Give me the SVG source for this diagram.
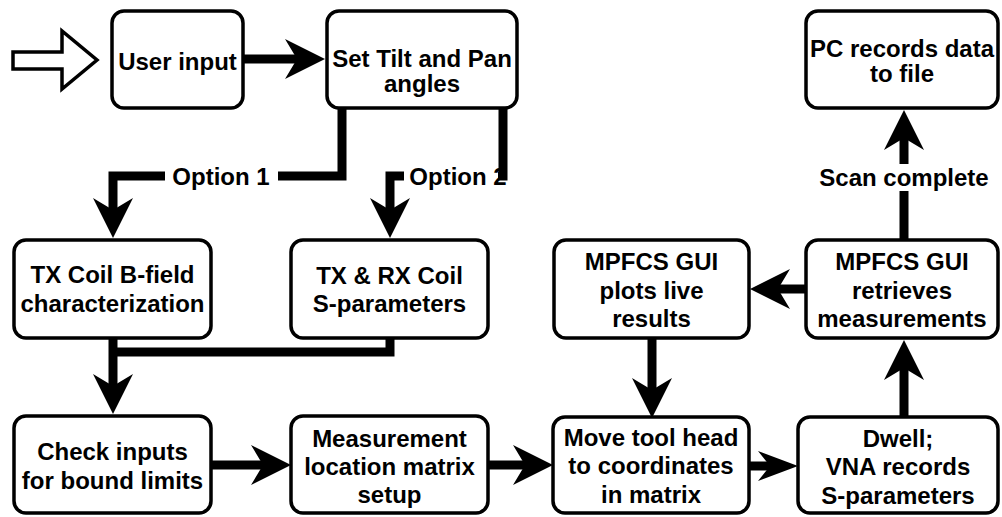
<svg xmlns="http://www.w3.org/2000/svg" width="1002" height="517" viewBox="0 0 1002 517">
  <style>
    .box { fill: #ffffff; stroke: #000000; stroke-width: 3.5; }
    .t { font-family: "Liberation Sans", Arial, sans-serif; font-weight: bold; font-size: 24px; fill: #000000; text-anchor: middle; }
    .edge { fill: none; stroke: #000000; stroke-width: 9; stroke-linejoin: miter; }
    .lbg { fill: #ffffff; stroke: none; }
  </style>
  <defs>
    <marker id="arrow" markerUnits="userSpaceOnUse" viewBox="0 0 40 40" markerWidth="40" markerHeight="40" refX="14" refY="20" orient="auto">
      <path d="M40,20 L0,0 L12,20 L0,40 Z" fill="#000000"/>
    </marker>
    <marker id="arrowS" markerUnits="userSpaceOnUse" viewBox="0 0 40 30" markerWidth="40" markerHeight="30" refX="14" refY="15" orient="auto">
      <path d="M40,15 L0,0 L12,15 L0,30 Z" fill="#000000"/>
    </marker>
  </defs>
  <rect width="1002" height="517" fill="#ffffff"/>

  <g id="connectors">
    <polygon id="start-arrow" points="13,52 62,52 62,31 97,60 62,89 62,69 13,69" fill="#ffffff" stroke="#000000" stroke-width="3.5" stroke-linejoin="miter"/>
    <path class="edge" d="M243,59 H299" marker-end="url(#arrow)"/>
    <path class="edge" d="M342,108 V176 H113 V212" marker-end="url(#arrow)"/>
    <path class="edge" d="M503,108 V176 H390 V212" marker-end="url(#arrow)"/>
    <path class="edge" d="M390,338 V352 H113"/>
    <path class="edge" d="M113,338 V388" marker-end="url(#arrow)"/>
    <path class="edge" d="M211,465 H265" marker-end="url(#arrow)"/>
    <path class="edge" d="M488,465 H527" marker-end="url(#arrow)"/>
    <path class="edge" d="M749,466 H772" marker-end="url(#arrowS)"/>
    <path class="edge" d="M904,417 V366" marker-end="url(#arrow)"/>
    <path class="edge" d="M806,289 H776" marker-end="url(#arrow)"/>
    <path class="edge" d="M652,338 V392" marker-end="url(#arrow)"/>
    <path class="edge" d="M904,240 V136" marker-end="url(#arrow)"/>
    <rect class="lbg" x="165" y="163" width="113" height="27"/>
    <text class="t" x="221" y="185">Option 1</text>
    <rect class="lbg" x="404" y="163" width="94" height="27"/>
    <text class="t" x="458" y="185">Option 2</text>
    <rect class="lbg" x="818" y="164" width="172" height="27"/>
    <text class="t" x="904" y="186">Scan complete</text>
  </g>

  <g id="user-input">
    <rect class="box" x="112" y="11" width="131" height="97" rx="12"/>
    <text class="t" x="177.5" y="70">User input</text>
  </g>
  <g id="set-tilt-pan">
    <rect class="box" x="327" y="11" width="190" height="97" rx="12"/>
    <text class="t" x="422" y="67">Set Tilt and Pan</text>
    <text class="t" x="422" y="92">angles</text>
  </g>
  <g id="pc-records">
    <rect class="box" x="806" y="11" width="192" height="97" rx="12"/>
    <text class="t" x="902" y="57">PC records data</text>
    <text class="t" x="902" y="82">to file</text>
  </g>
  <g id="tx-coil">
    <rect class="box" x="14" y="240" width="197" height="98" rx="12"/>
    <text class="t" x="112.5" y="283">TX Coil B-field</text>
    <text class="t" x="112.5" y="312">characterization</text>
  </g>
  <g id="tx-rx-coil">
    <rect class="box" x="291" y="240" width="197" height="98" rx="12"/>
    <text class="t" x="389.5" y="284">TX &amp; RX Coil</text>
    <text class="t" x="389.5" y="312">S-parameters</text>
  </g>
  <g id="gui-plots">
    <rect class="box" x="554" y="240" width="195" height="98" rx="12"/>
    <text class="t" x="651.5" y="270">MPFCS GUI</text>
    <text class="t" x="651.5" y="299">plots live</text>
    <text class="t" x="651.5" y="327">results</text>
  </g>
  <g id="gui-retrieves">
    <rect class="box" x="806" y="240" width="192" height="98" rx="12"/>
    <text class="t" x="902" y="270">MPFCS GUI</text>
    <text class="t" x="902" y="299">retrieves</text>
    <text class="t" x="902" y="327">measurements</text>
  </g>
  <g id="check-inputs">
    <rect class="box" x="14" y="416" width="197" height="97" rx="12"/>
    <text class="t" x="112.5" y="460">Check inputs</text>
    <text class="t" x="112.5" y="489">for bound limits</text>
  </g>
  <g id="measurement-matrix">
    <rect class="box" x="291" y="416" width="197" height="97" rx="12"/>
    <text class="t" x="389.5" y="447">Measurement</text>
    <text class="t" x="389.5" y="475">location matrix</text>
    <text class="t" x="389.5" y="503">setup</text>
  </g>
  <g id="move-tool-head">
    <rect class="box" x="553" y="417" width="196" height="96" rx="12"/>
    <text class="t" x="651" y="446">Move tool head</text>
    <text class="t" x="651" y="474">to coordinates</text>
    <text class="t" x="651" y="503">in matrix</text>
  </g>
  <g id="dwell-vna">
    <rect class="box" x="798" y="417" width="200" height="96" rx="12"/>
    <text class="t" x="898" y="447">Dwell;</text>
    <text class="t" x="898" y="475">VNA records</text>
    <text class="t" x="898" y="504">S-parameters</text>
  </g>
</svg>
